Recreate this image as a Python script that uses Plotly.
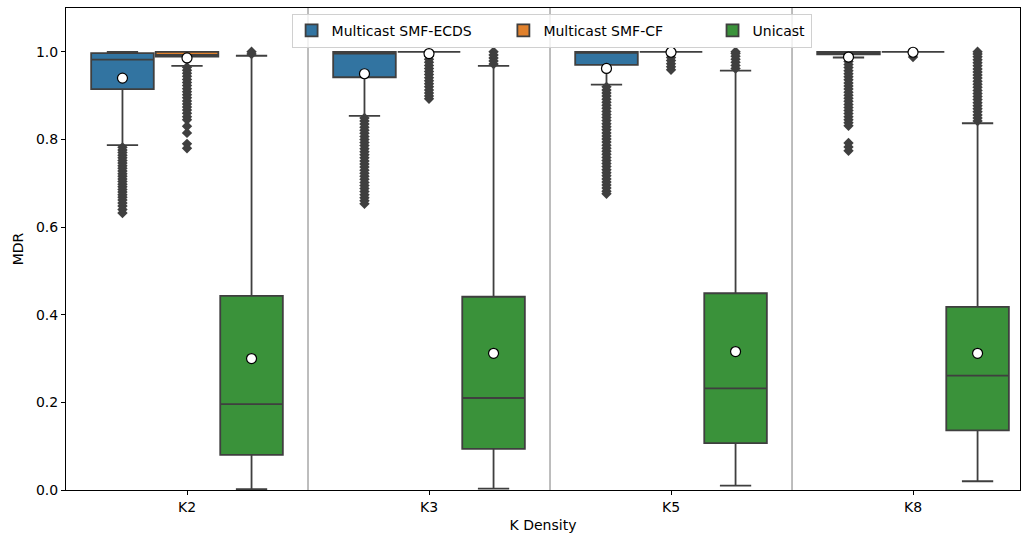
import plotly.graph_objects as go

categories = ["K2", "K3", "K5", "K8"]
series_names = ["Multicast SMF-ECDS", "Multicast SMF-CF", "Unicast"]
series_colors = ["#3274a1", "#e1812c", "#3a923a"]

# Multicast SMF-ECDS
ecds_q1 = [0.915, 0.942, 0.970, 0.994]
ecds_median = [0.982, 0.996, 0.998, 0.999]
ecds_q3 = [0.997, 1.000, 1.000, 1.000]
ecds_low = [0.787, 0.854, 0.925, 0.987]
ecds_high = [1.000, 1.000, 1.000, 1.000]
ecds_mean = [0.940, 0.950, 0.962, 0.988]
ecds_out_k2 = [0.782, 0.776, 0.770, 0.764, 0.758, 0.752, 0.746, 0.740, 0.734, 0.728,
               0.722, 0.716, 0.710, 0.704, 0.698, 0.692, 0.686, 0.680, 0.674, 0.668,
               0.662, 0.655, 0.648, 0.640, 0.632]
ecds_out_k3 = [0.849, 0.842, 0.835, 0.828, 0.821, 0.814, 0.807, 0.800, 0.793, 0.786,
               0.779, 0.772, 0.765, 0.758, 0.751, 0.744, 0.737, 0.730, 0.723, 0.716,
               0.709, 0.702, 0.695, 0.688, 0.681, 0.674, 0.667, 0.660, 0.653]
ecds_out_k5 = [0.920, 0.913, 0.906, 0.899, 0.892, 0.885, 0.878, 0.871, 0.864, 0.857,
               0.850, 0.843, 0.836, 0.829, 0.822, 0.815, 0.808, 0.801, 0.794, 0.787,
               0.780, 0.773, 0.766, 0.759, 0.752, 0.745, 0.738, 0.731, 0.724, 0.717,
               0.710, 0.703, 0.696, 0.689, 0.682, 0.676]
ecds_out_k8 = [0.985, 0.978, 0.971, 0.964, 0.957, 0.950, 0.943, 0.936, 0.929, 0.922,
               0.915, 0.908, 0.901, 0.894, 0.887, 0.880, 0.873, 0.866, 0.859, 0.852,
               0.845, 0.838, 0.831, 0.792, 0.783, 0.774]
ecds_outliers = [ecds_out_k2, ecds_out_k3, ecds_out_k5, ecds_out_k8]

# Multicast SMF-CF
cf_q1 = [0.989, 1.000, 1.000, 1.000]
cf_median = [0.993, 1.000, 1.000, 1.000]
cf_q3 = [1.000, 1.000, 1.000, 1.000]
cf_low = [0.968, 1.000, 1.000, 1.000]
cf_high = [1.000, 1.000, 1.000, 1.000]
cf_mean = [0.986, 0.996, 0.999, 0.999]
cf_out_k2 = [0.965, 0.958, 0.951, 0.944, 0.937, 0.930, 0.923, 0.916, 0.909, 0.902,
             0.895, 0.888, 0.881, 0.874, 0.867, 0.860, 0.852, 0.845, 0.830, 0.815,
             0.790, 0.780]
cf_out_k3 = [0.996, 0.990, 0.983, 0.976, 0.969, 0.962, 0.955, 0.948, 0.941, 0.934,
             0.927, 0.920, 0.913, 0.906, 0.899, 0.893]
cf_out_k5 = [0.994, 0.987, 0.980, 0.973, 0.966, 0.959]
cf_out_k8 = [0.994, 0.988]
cf_outliers = [cf_out_k2, cf_out_k3, cf_out_k5, cf_out_k8]

# Unicast
uni_q1 = [0.080, 0.094, 0.107, 0.136]
uni_median = [0.196, 0.210, 0.232, 0.261]
uni_q3 = [0.443, 0.441, 0.449, 0.418]
uni_low = [0.002, 0.003, 0.010, 0.020]
uni_high = [0.991, 0.968, 0.957, 0.837]
uni_mean = [0.300, 0.312, 0.316, 0.312]
uni_out_k2 = [0.995, 1.000]
uni_out_k3 = [0.972, 0.979, 0.986, 0.993, 1.000]
uni_out_k5 = [0.962, 0.969, 0.976, 0.983, 0.990, 0.996, 1.000]
uni_out_k8 = [0.842, 0.849, 0.856, 0.863, 0.870, 0.877, 0.884, 0.891, 0.898, 0.905,
              0.912, 0.919, 0.926, 0.933, 0.940, 0.947, 0.954, 0.961, 0.968, 0.975,
              0.982, 0.989, 0.995, 1.000]
uni_outliers = [uni_out_k2, uni_out_k3, uni_out_k5, uni_out_k8]

stats = [
    (ecds_q1, ecds_median, ecds_q3, ecds_low, ecds_high, ecds_mean, ecds_outliers),
    (cf_q1, cf_median, cf_q3, cf_low, cf_high, cf_mean, cf_outliers),
    (uni_q1, uni_median, uni_q3, uni_low, uni_high, uni_mean, uni_outliers),
]

EDGE = "#3f3f3f"
FONT = "DejaVu Sans"
legend_pads = ["\u00a0" * 6, "\u00a0" * 10, ""]  # spacing after legend labels

fig = go.Figure()

for i, (name, color, st) in enumerate(zip(series_names, series_colors, stats)):
    q1, med, q3, lo, hi, mean, outs = st
    grp = "g%d" % i
    fig.add_trace(go.Box(
        name=name + legend_pads[i], x=categories, q1=q1, median=med, q3=q3,
        lowerfence=lo, upperfence=hi,
        fillcolor=color, line=dict(color=EDGE, width=1.8),
        whiskerwidth=0.5, boxpoints=False,
        offsetgroup=grp, alignmentgroup="a", legendgroup=grp,
        hoverinfo="skip",
    ))

for i, (name, st) in enumerate(zip(series_names, stats)):
    q1, med, q3, lo, hi, mean, outs = st
    grp = "g%d" % i
    ox, oy = [], []
    for cat, vals in zip(categories, outs):
        ox += [cat] * len(vals)
        oy += vals
    fig.add_trace(go.Scatter(
        x=ox, y=oy, mode="markers", showlegend=False,
        marker=dict(symbol="diamond", size=8, color=EDGE, line=dict(width=0)),
        offsetgroup=grp, alignmentgroup="a", legendgroup=grp, hoverinfo="skip",
    ))

for i, (name, st) in enumerate(zip(series_names, stats)):
    q1, med, q3, lo, hi, mean, outs = st
    grp = "g%d" % i
    fig.add_trace(go.Scatter(
        x=categories, y=mean, mode="markers", showlegend=False,
        marker=dict(symbol="circle", size=10, color="white",
                    line=dict(color="black", width=1.2)),
        offsetgroup=grp, alignmentgroup="a", legendgroup=grp, hoverinfo="skip",
    ))

for b in [0.5, 1.5, 2.5]:
    fig.add_shape(type="line", xref="x", yref="paper", x0=b, x1=b, y0=0, y1=1,
                  line=dict(color="#a8a8a8", width=1.5), layer="below")

fig.update_layout(
    width=1023, height=540,
    margin=dict(l=66, r=3, t=8, b=50),
    paper_bgcolor="white", plot_bgcolor="white",
    font=dict(family=FONT, size=14, color="black"),
    boxmode="group", boxgap=0.2, boxgroupgap=0.03,
    scattermode="group", scattergap=0.2,
    showlegend=True,
    legend=dict(
        orientation="h", x=0.509, xanchor="center", y=0.988, yanchor="top",
        bgcolor="rgba(255,255,255,0.8)", bordercolor="#d0d0d0", borderwidth=1,
        font=dict(family=FONT, size=14), itemwidth=30,
    ),
    xaxis=dict(
        type="category", categoryorder="array", categoryarray=categories,
        range=[-0.5, 3.442], showline=True, linecolor="black", linewidth=1,
        mirror=True, ticks="outside", ticklen=4, tickcolor="black",
        showgrid=False, zeroline=False,
        title=dict(text="K Density", font=dict(size=14), standoff=6),
    ),
    yaxis=dict(
        range=[0, 1.1], tickvals=[0, 0.2, 0.4, 0.6, 0.8, 1.0], tickformat=".1f",
        showline=True, linecolor="black", linewidth=1, mirror=True,
        ticks="outside", ticklen=4, tickcolor="black",
        showgrid=False, zeroline=False,
        title=dict(text="MDR", font=dict(size=14), standoff=9),
    ),
)

fig.write_html("out.html", config={"displayModeBar": False},
               post_script="document.body.style.margin='0';")
